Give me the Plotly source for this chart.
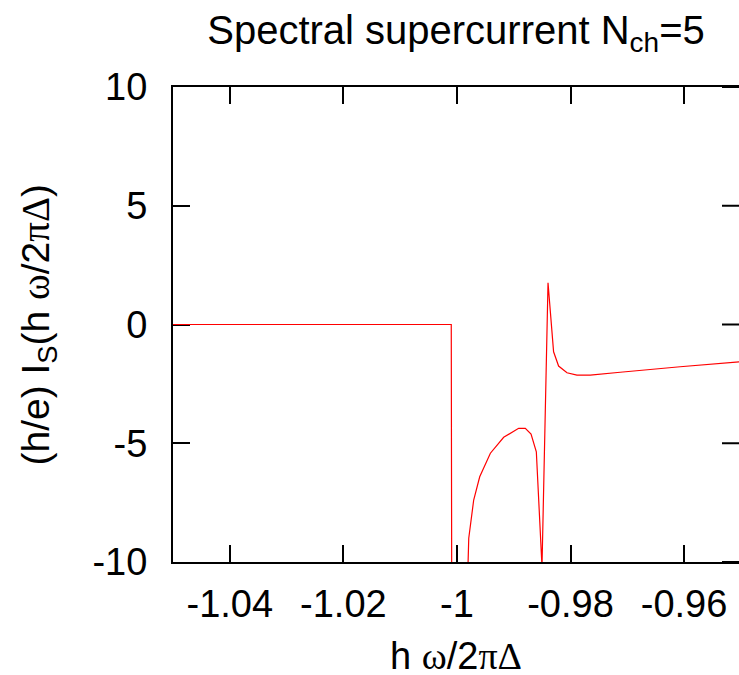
import plotly.graph_objects as go

# spectral supercurrent
omega = [-1.05, -1.0010, -1.0009, -0.9985, -0.99792, -0.99705, -0.99599,
         -0.99411, -0.99177, -0.98913, -0.98796, -0.98695, -0.98602,
         -0.98502, -0.98396, -0.98298, -0.98210, -0.98062, -0.97887,
         -0.97653, -0.97125, -0.96598, -0.96070, -0.95]
current = [0, 0, -14, -14, -9.0, -7.39, -6.41,
           -5.42, -4.75, -4.37, -4.37, -4.61, -5.36,
           -10.2, 1.76, -1.15, -1.75, -2.03, -2.13,
           -2.13, -2.01, -1.89, -1.78, -1.57]

x_ticks = [-1.04, -1.02, -1.0, -0.98, -0.96]
x_labels = ["-1.04", "-1.02", "-1", "-0.98", "-0.96"]
y_ticks = [-10, -5, 0, 5, 10]
y_labels = ["-10", "-5", "0", "5", "10"]

FONT = "Liberation Sans, Arial, sans-serif"
SERIF = "font-family:Liberation Serif"

W, H = 739, 675
L, T, B = 173, 87, 113
TICK = 17

fig = go.Figure()
fig.add_trace(go.Scatter(x=omega, y=current, mode="lines",
                         line=dict(color="#ff0000", width=1.2),
                         showlegend=False))

fig.update_layout(
    width=W, height=H,
    margin=dict(l=L, r=0, t=T, b=B),
    plot_bgcolor="white", paper_bgcolor="white",
    font=dict(family=FONT, size=38, color="black"),
    title=dict(text="Spectral supercurrent N<sub>ch</sub>=5",
               x=0.5, xref="paper", xanchor="center",
               y=1 - 30 / H, yref="container", yanchor="middle",
               font=dict(size=40)),
    xaxis=dict(range=[-1.05, -0.95033], tickvals=x_ticks, ticktext=x_labels,
               showgrid=False, zeroline=False, showline=True,
               linecolor="black", linewidth=2, mirror="ticks",
               ticks="inside", ticklen=TICK, tickwidth=2, tickcolor="black",
               ticklabelstandoff=7, layer="below traces"),
    yaxis=dict(range=[-10, 10], tickvals=y_ticks, ticktext=y_labels,
               showgrid=False, zeroline=False, showline=True,
               linecolor="black", linewidth=2, mirror=False,
               ticks="inside", ticklen=TICK, tickwidth=2, tickcolor="black",
               ticklabelstandoff=16, layer="below traces"),
)

plot_w = W - L
plot_h = H - T - B

# right-hand ticks (the right border itself lies just outside the picture)
for v in y_ticks:
    fig.add_shape(type="line", xref="paper", yref="y",
                  x0=1 - TICK / plot_w, x1=1, y0=v, y1=v,
                  line=dict(color="black", width=2), layer="below")

fig.add_annotation(
    text="(h/e) I<sub>S</sub>(h <span style='%s'>ω</span>/2<span style='%s'>πΔ</span>)" % (SERIF, SERIF),
    xref="paper", yref="paper", x=-(L - 38) / plot_w, y=0.5,
    xanchor="center", yanchor="middle", textangle=-90,
    showarrow=False, font=dict(size=39))
fig.add_annotation(
    text="h <span style='%s'>ω</span>/2<span style='%s'>πΔ</span>" % (SERIF, SERIF),
    xref="paper", yref="paper", x=0.5, y=-94 / plot_h,
    xanchor="center", yanchor="middle",
    showarrow=False, font=dict(size=38))

# drop the default 8px body margin so the figure fills the window exactly
fig.write_html("out.html",
               config={"displayModeBar": False},
               post_script="document.body.style.margin='0';"
                           "document.body.style.overflow='hidden';")
